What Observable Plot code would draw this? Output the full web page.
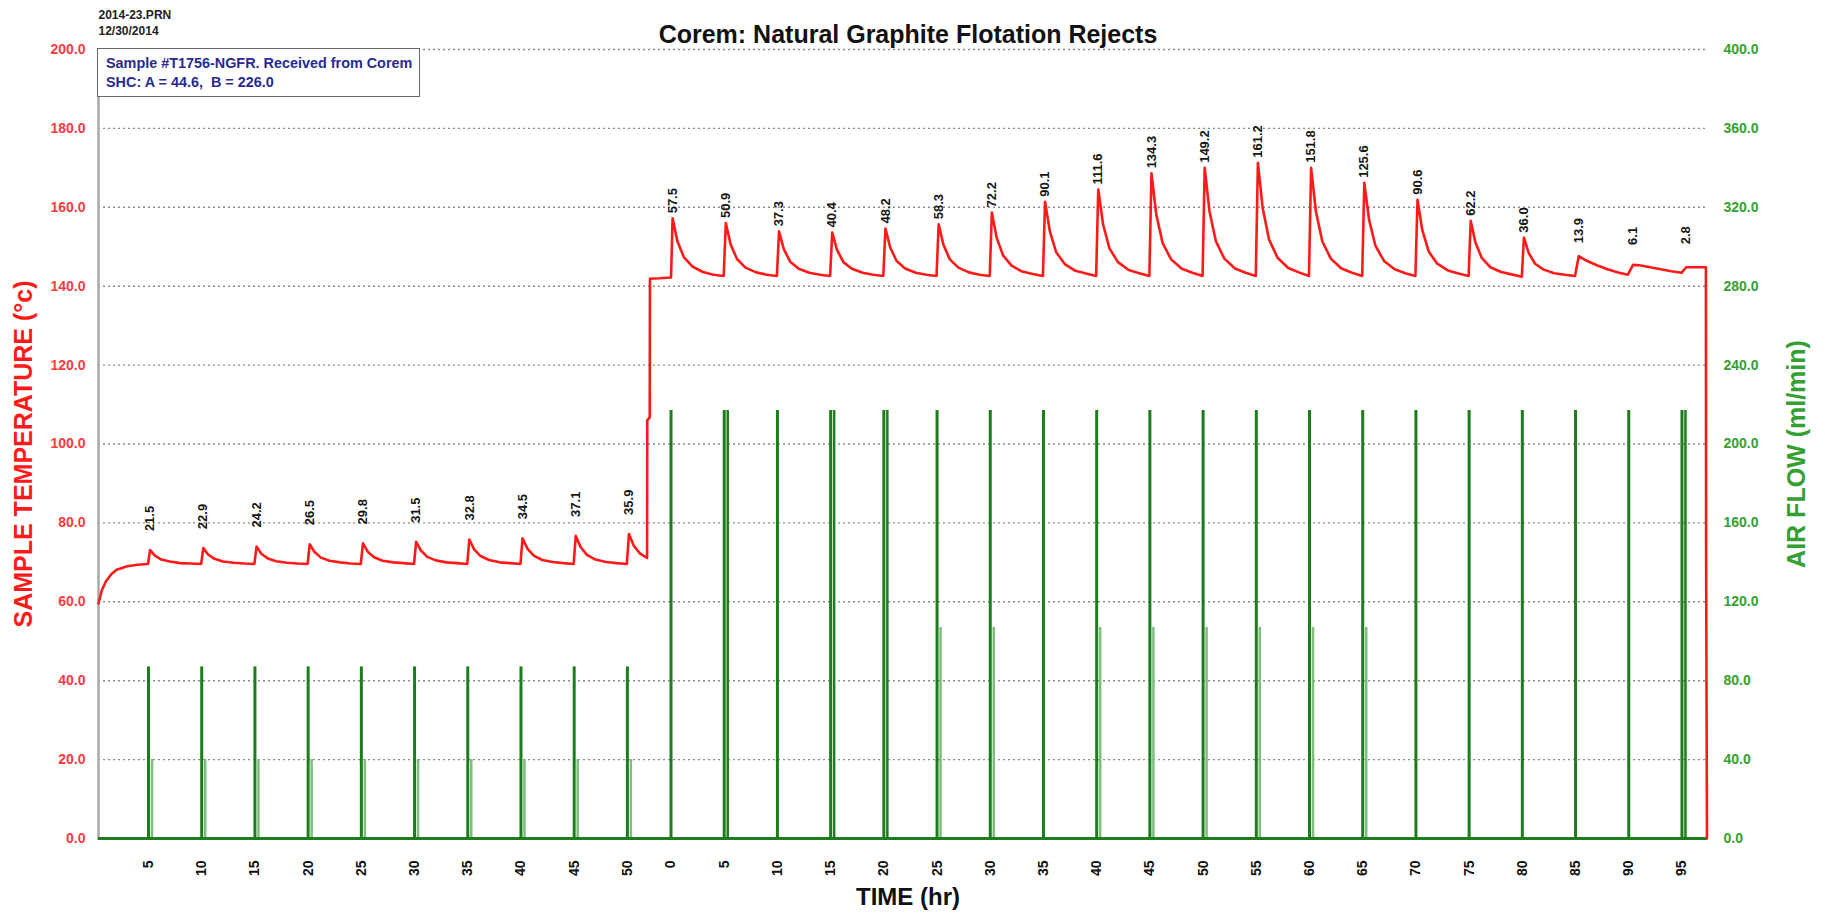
<!DOCTYPE html>
<html>
<head>
<meta charset="utf-8">
<script src="https://cdn.jsdelivr.net/npm/d3@7"></script>
<script src="https://cdn.jsdelivr.net/npm/@observablehq/plot@0.6"></script>
<style>
  body { margin: 0; background: #fff; }
  #wrap { position: relative; width: 1825px; height: 916px; overflow: hidden; }
  #legend {
    position: absolute; left: 97px; top: 48px; width: 323px; height: 49px;
    box-sizing: border-box; border: 1.5px solid #666; background: #fff;
    font: bold 14.4px "Liberation Sans", Arial, sans-serif; color: #2a2a92;
    padding: 5px 0 0 8px; line-height: 19px; white-space: pre;
  }
</style>
</head>
<body>
<div id="wrap">
  <div id="chart"></div>
  <div id="legend"><div>Sample #T1756-NGFR. Received from Corem</div><div>SHC: A = 44.6,  B = 226.0</div></div>
</div>
<script>
// ---------------- data ----------------
// hours are elapsed hours within each run; run 2 starts this many hours after run 1's zero
const run2Start = 54.1;

// sample temperature, run 1: [hour, °C]
const tempRun1 = [
  [0.3,59.6],[0.6,62.8],[1.0,65.2],[1.5,67.0],[2.0,68.1],[3.0,69.0],[4.0,69.4],[4.95,69.6],
  [5.15,73.1],[5.6,71.7],[6.2,70.7],[7.0,70.2],[8.0,69.8],[9.0,69.7],[9.95,69.6],
  [10.15,73.6],[10.6,72.0],[11.2,70.9],[12.0,70.2],[13.0,69.9],[14.0,69.7],[14.95,69.6],
  [15.15,74.0],[15.6,72.2],[16.2,71.0],[17.0,70.3],[18.0,69.9],[19.0,69.7],[19.95,69.6],
  [20.15,74.6],[20.6,72.6],[21.2,71.2],[22.0,70.4],[23.0,70.0],[24.0,69.7],[24.95,69.6],
  [25.15,74.8],[25.6,72.7],[26.2,71.3],[27.0,70.4],[28.0,70.0],[29.0,69.8],[29.95,69.6],
  [30.15,75.2],[30.6,73.0],[31.2,71.4],[32.0,70.5],[33.0,70.0],[34.0,69.8],[34.95,69.6],
  [35.15,75.8],[35.6,73.3],[36.2,71.6],[37.0,70.6],[38.0,70.0],[39.0,69.8],[39.95,69.6],
  [40.15,76.1],[40.6,73.5],[41.2,71.7],[42.0,70.6],[43.0,70.1],[44.0,69.8],[44.95,69.6],
  [45.15,76.7],[45.6,73.9],[46.2,71.9],[47.0,70.7],[48.0,70.1],[49.0,69.8],[49.95,69.6],
  [50.15,77.2],[50.6,74.2],[51.2,72.2],[51.85,71.1],
  [51.87,106.0],[52.1,106.8],[52.12,141.9],[53.0,142.0],[54.05,142.2]
];

// sample temperature, run 2: [hour, °C]
const tempRun2 = [
  [0,142.2],[0.15,157.2],[0.6,151.4],[1.2,147.4],[2.0,145.0],[3.0,143.6],[4.0,142.9],[4.95,142.6],
  [5.15,156.0],[5.6,150.6],[6.2,146.9],[7.0,144.7],[8.0,143.5],[9.0,142.9],[9.95,142.6],
  [10.15,153.9],[10.6,149.4],[11.2,146.2],[12.0,144.4],[13.0,143.4],[14.0,142.9],[14.95,142.6],
  [15.15,153.6],[15.6,149.2],[16.2,146.1],[17.0,144.4],[18.0,143.4],[19.0,142.9],[19.95,142.6],
  [20.15,154.6],[20.6,149.8],[21.2,146.4],[22.0,144.5],[23.0,143.4],[24.0,142.9],[24.95,142.6],
  [25.15,155.7],[25.6,150.5],[26.2,146.8],[27.0,144.7],[28.0,143.5],[29.0,142.9],[29.95,142.6],
  [30.15,158.7],[30.6,152.3],[31.2,147.8],[32.0,145.2],[33.0,143.7],[34.0,143.1],[34.95,142.6],
  [35.15,161.4],[35.6,153.9],[36.2,148.6],[37.0,145.6],[38.0,143.9],[39.0,143.2],[39.95,142.6],
  [40.15,164.5],[40.6,155.7],[41.2,149.6],[42.0,146.1],[43.0,144.1],[44.0,143.3],[44.95,142.6],
  [45.15,168.6],[45.6,158.2],[46.2,150.9],[47.0,146.8],[48.0,144.4],[49.0,143.4],[49.95,142.6],
  [50.15,170.0],[50.6,159.0],[51.2,151.4],[52.0,147.0],[53.0,144.5],[54.0,143.4],[54.95,142.6],
  [55.15,171.3],[55.6,159.8],[56.2,151.8],[57.0,147.2],[58.0,144.6],[59.0,143.5],[59.95,142.6],
  [60.15,170.0],[60.6,159.0],[61.2,151.4],[62.0,147.0],[63.0,144.5],[64.0,143.4],[64.95,142.6],
  [65.15,166.2],[65.6,156.8],[66.2,150.2],[67.0,146.4],[68.0,144.3],[69.0,143.3],[69.95,142.6],
  [70.15,161.9],[70.6,154.2],[71.2,148.8],[72.0,145.7],[73.0,144.0],[74.0,143.2],[74.95,142.6],
  [75.15,156.6],[75.6,151.0],[76.2,147.1],[77.0,144.8],[78.0,143.6],[79.0,143.0],[79.95,142.4],
  [80.15,152.3],[80.6,148.4],[81.2,145.7],[82.0,144.2],[83.0,143.3],[84.0,142.9],[84.95,142.6],
  [85.3,147.6],[86.0,146.5],[87.0,145.3],[88.0,144.3],[89.0,143.5],[89.9,142.9],
  [90.4,145.4],[91.0,145.3],[92.0,144.8],[93.0,144.3],[94.0,143.8],[94.95,143.4],
  [95.4,144.8],[96.5,144.8],[97.25,144.8],[97.27,71.0],[97.35,0]
];

// peak annotations
const run1PeakHours = [5.15,10.15,15.15,20.15,25.15,30.15,35.15,40.15,45.15,50.15];
const run1PeakTemps = [73.1,73.6,74.0,74.6,74.8,75.2,75.8,76.1,76.7,77.2];
const run1PeakLabels = ["21.5","22.9","24.2","26.5","29.8","31.5","32.8","34.5","37.1","35.9"];
const run2PeakHours = [0.15,5.15,10.15,15.15,20.15,25.15,30.15,35.15,40.15,45.15,50.15,55.15,60.15,65.15,70.15,75.15,80.15,85.3,90.4,95.4];
const run2PeakTemps = [157.2,156.0,153.9,153.6,154.6,155.7,158.7,161.4,164.5,168.6,170.0,171.3,170.0,166.2,161.9,156.6,152.3,147.6,145.4,144.8];
const run2PeakLabels = ["57.5","50.9","37.3","40.4","48.2","58.3","72.2","90.1","111.6","134.3","149.2","161.2","151.8","125.6","90.6","62.2","36.0","13.9","6.1","2.8"];

// air flow pulses (ml/min): start hour, peak, short hold level after the peak
const airRun1Hours = [5,10,15,20,25,30,35,40,45,50];
const airRun1Peak  = [87,87,87,87,87,87,87,87,87,87];
const airRun1Hold  = [40,40,40,40,40,40,40,40,40,40];
const airRun2Hours = [0,5,10,15,20,25,30,35,40,45,50,55,60,65,70,75,80,85,90,95];
const airRun2Peak  = [217,217,217,217,217,217,217,217,217,217,217,217,217,217,217,217,217,217,217,217];
const airRun2Hold  = [0,217,0,217,217,107,107,0,107,107,107,107,107,107,0,0,0,0,0,217];

// axis ticks
const tempTicks = [0,20,40,60,80,100,120,140,160,180,200];
const airTicks = [0,40,80,120,160,200,240,280,320,360,400];
const run1TimeTicks = [5,10,15,20,25,30,35,40,45,50];
const run2TimeTicks = [0,5,10,15,20,25,30,35,40,45,50,55,60,65,70,75,80,85,90,95];

// ---------------- build ----------------
const red = "#ff1a1a", redLabel = "#ff3a3a";
const green = "#1d7d1d", lightGreen = "#7dbd7d", greenLabel = "#34a034";
const font = '"Liberation Sans", Arial, sans-serif';

const temp = [
  ...tempRun1.map(([h, v]) => ({t: h, v})),
  ...tempRun2.map(([h, v]) => ({t: h + run2Start, v}))
];
// air flow drawn on the temperature scale: 400 ml/min <-> 200 °C
const airToTemp = a => a / 2;
const pulses = [
  ...airRun1Hours.map((h, i) => ({t: h, peak: airRun1Peak[i], hold: airRun1Hold[i]})),
  ...airRun2Hours.map((h, i) => ({t: h + run2Start, peak: airRun2Peak[i], hold: airRun2Hold[i]}))
];
const peaks1 = run1PeakHours.map((h, i) => ({t: h, v: run1PeakTemps[i], label: run1PeakLabels[i]}));
const peaks2 = run2PeakHours.map((h, i) => ({t: h + run2Start, v: run2PeakTemps[i], label: run2PeakLabels[i]}));

const xTicks = [...run1TimeTicks, ...run2TimeTicks.map(h => h + run2Start)];
const xTickFormat = d => String(Math.round(d >= run2Start - 0.01 ? d - run2Start : d));

const peakText = (data, dy) => Plot.text(data, {
  x: "t", y: "v", text: "label", rotate: -90, textAnchor: "start", dy,
  fontSize: 13, fontWeight: "bold", fill: "#151515", fontFamily: font
});

const chart = Plot.plot({
  width: 1825,
  height: 916,
  marginLeft: 98,
  marginRight: 118,
  marginTop: 49,
  marginBottom: 78,
  style: {fontFamily: font, background: "#fff"},
  x: {domain: [0.3, 151.5]},
  y: {domain: [0, 200]},
  marks: [
    Plot.gridY(tempTicks.filter(d => d > 0), {stroke: "#8c8c8c", strokeOpacity: 1, strokeWidth: 1.4, strokeDasharray: "2,3"}),
    Plot.frame({anchor: "left", stroke: "#a9a9a9", strokeWidth: 2.5}),
    Plot.ruleX(pulses.filter(d => d.hold > 0), {
      x: "t", y1: 0, y2: d => airToTemp(d.hold), dx: 3.5, strokeWidth: 2.5,
      stroke: d => d.hold >= d.peak ? green : lightGreen
    }),
    Plot.ruleX(pulses, {x: "t", y1: 0, y2: d => airToTemp(d.peak), stroke: green, strokeWidth: 3}),
    Plot.ruleY([0], {stroke: green, strokeWidth: 3}),
    Plot.line(temp, {x: "t", y: "v", stroke: red, strokeWidth: 2.6}),
    peakText(peaks1, -19),
    peakText(peaks2.slice(0, 17), -5),
    peakText(peaks2.slice(17, 18), -13),
    peakText(peaks2.slice(18, 19), -20),
    peakText(peaks2.slice(19), -23),
    Plot.axisY(tempTicks, {anchor: "left", tickSize: 0, tickPadding: 13, tickFormat: d => d.toFixed(1),
      color: redLabel, fontSize: 14, fontWeight: "bold", label: null}),
    Plot.axisY(airTicks.map(airToTemp), {anchor: "right", tickSize: 0, tickPadding: 16,
      tickFormat: d => (d * 2).toFixed(1), color: greenLabel, fontSize: 14, fontWeight: "bold", label: null}),
    Plot.axisX(xTicks, {anchor: "bottom", tickSize: 0, tickPadding: 22, tickRotate: -90,
      tickFormat: xTickFormat, color: "#111", fontSize: 14, fontWeight: "bold", label: null}),
    // titles
    Plot.text(["Corem: Natural Graphite Flotation Rejects"], {frameAnchor: "top", textAnchor: "middle", dx: 5, dy: -24,
      fontSize: 25, fontWeight: "bold", fill: "#111"}),
    Plot.text(["2014-23.PRN"], {frameAnchor: "top-left", textAnchor: "start", dy: -39,
      fontSize: 12, fontWeight: "bold", fill: "#222"}),
    Plot.text(["12/30/2014"], {frameAnchor: "top-left", textAnchor: "start", dy: -23,
      fontSize: 12, fontWeight: "bold", fill: "#222"}),
    Plot.text(["TIME (hr)"], {frameAnchor: "bottom", textAnchor: "middle", dx: 5, dy: 66,
      fontSize: 24, fontWeight: "bold", fill: "#111"}),
    Plot.text(["SAMPLE TEMPERATURE (°c)"], {frameAnchor: "left", textAnchor: "middle", rotate: -90, dx: -75, dy: 10,
      fontSize: 25, fontWeight: "bold", fill: red}),
    Plot.text(["AIR FLOW (ml/min)"], {frameAnchor: "right", textAnchor: "middle", rotate: -90, dx: 89, dy: 10,
      fontSize: 25, fontWeight: "bold", fill: greenLabel})
  ]
});
document.getElementById("chart").appendChild(chart);
</script>
</body>
</html>
